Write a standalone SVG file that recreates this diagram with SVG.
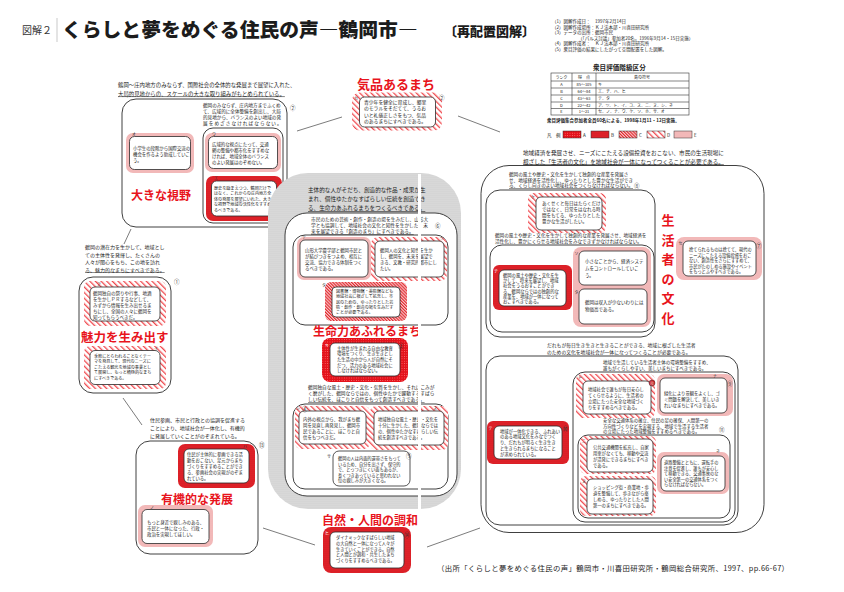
<svg xmlns="http://www.w3.org/2000/svg" width="844" height="592" viewBox="0 0 844 592">
<defs>
<style>
text{font-family:"Noto Sans CJK JP","Noto Sans",sans-serif;fill:#1c1c1c}
.s41{font-size:4.1px}.s42{font-size:4.2px}.s43{font-size:4.3px}.s44{font-size:4.4px}.s45{font-size:4.5px}.s46{font-size:4.6px}.s47{font-size:4.7px}.s48{font-size:4.8px}.s50{font-size:5px}.s54{font-size:5.4px}.s56{font-size:5.6px}
.u{text-decoration:underline}
.red{fill:#e8141c;font-weight:700}
.lab{font-size:4px;fill:#333}
.num{font-size:5.5px;fill:#333}
.fr{fill:#fff;stroke:#2a2a2a;stroke-width:0.9}
.bx{fill:#fff;stroke:#2a2a2a;stroke-width:0.8}
.ln{stroke:#444;stroke-width:0.7;fill:none}
.tb{fill:none;stroke:#333;stroke-width:0.6}
</style>
<pattern id="pA" width="2.4" height="2.4" patternUnits="userSpaceOnUse"><rect width="2.4" height="2.4" fill="#e4121b"/><circle cx="1.2" cy="1.2" r="0.45" fill="#ff8a8a"/></pattern>
<pattern id="pB" width="2" height="2" patternUnits="userSpaceOnUse"><rect width="2" height="2" fill="#e8252c"/><circle cx="1" cy="1" r="0.5" fill="#a80b12"/></pattern>
<pattern id="pC" width="2.2" height="2.2" patternUnits="userSpaceOnUse" patternTransform="rotate(-45)"><rect width="2.2" height="2.2" fill="#f7c9c9"/><rect width="1.1" height="2.2" fill="#e3262d"/></pattern>
<pattern id="pD" width="4" height="4" patternUnits="userSpaceOnUse" patternTransform="rotate(-45)"><rect width="4" height="4" fill="#fff"/><rect width="1.3" height="4" fill="#f0484d"/></pattern>
<pattern id="pE" width="2" height="2" patternUnits="userSpaceOnUse"><rect width="2" height="2" fill="#f4bcbc"/><circle cx="1" cy="1" r="0.4" fill="#e79e9e"/></pattern>
<pattern id="pG" width="2" height="2" patternUnits="userSpaceOnUse"><rect width="2" height="2" fill="#dedede"/><circle cx="1" cy="1" r="0.55" fill="#bdbdbd"/></pattern>
</defs>
<rect width="844" height="592" fill="#fff"/>

<g id="title">
<text x="22" y="34" style="font-size:10px;fill:#333">図解２</text>
<line x1="57" y1="18" x2="57" y2="42" stroke="#bbb" stroke-width="0.8"/>
<text x="62" y="37" style="font-size:19.8px;font-weight:900">くらしと夢をめぐる住民の声―鶴岡市―</text>
<text x="444" y="36" style="font-size:13px;font-weight:900">〔再配置図解〕</text>
</g>

<g id="notes">
<text class="s45" x="552" y="23">（1）図解作成日：　1997年2月14日</text>
<text class="s45" x="552" y="28.5">（2）図解作成場所：ＫＪ法本部・川喜田研究所</text>
<text class="s45" x="552" y="34">（3）データの出所：鶴岡市民</text>
<text class="s45" x="578" y="39.5">（「パルス討議」参加者20名，1996年9月14・15日実施）</text>
<text class="s45" x="552" y="45">（4）図解作成者：　ＫＪ法本部・川喜田研究所</text>
<text class="s45" x="552" y="51">（5）衆目評価の結果にしたがって空間配置をした図解。</text>
</g>

<g id="rank-table">
<text x="593" y="70" style="font-size:6.6px;font-weight:700">衆目評価階級区分</text>
<rect class="tb" x="551" y="73" width="138" height="42" stroke-width="0.9"/>
<line class="tb" x1="572" y1="73" x2="572" y2="115"/>
<line class="tb" x1="596" y1="73" x2="596" y2="115"/>
<line class="tb" x1="551" y1="81" x2="689" y2="81"/>
<line class="tb" x1="551" y1="88" x2="689" y2="88"/>
<line class="tb" x1="551" y1="95" x2="689" y2="95"/>
<line class="tb" x1="551" y1="102" x2="689" y2="102"/>
<line class="tb" x1="551" y1="108.5" x2="689" y2="108.5"/>
<g text-anchor="middle">
<text x="561.5" y="79.3" style="font-size:4px">ランク</text><text x="584" y="79.3" style="font-size:4px">得　点</text><text x="642" y="79.3" style="font-size:4px">島の符号</text>
<text x="561.5" y="86.3" style="font-size:4px">A</text><text x="584" y="86.3" style="font-size:4px">85～105</text>
<text x="561.5" y="93.3" style="font-size:4px">B</text><text x="584" y="93.3" style="font-size:4px">64～84</text>
<text x="561.5" y="100.3" style="font-size:4px">C</text><text x="584" y="100.3" style="font-size:4px">43～63</text>
<text x="561.5" y="106.8" style="font-size:4px">D</text><text x="584" y="106.8" style="font-size:4px">22～42</text>
<text x="561.5" y="113.3" style="font-size:4px">E</text><text x="584" y="113.3" style="font-size:4px">1～21</text>
</g>
<text x="598" y="86.3" style="font-size:4px">キ</text>
<text x="598" y="93.3" style="font-size:4px">エ、チ、ハ、ヒ</text>
<text x="598" y="100.3" style="font-size:4px">テ、タ</text>
<text x="598" y="106.8" style="font-size:4px">ア、ツ、ト、イ、コ、ス、ニ、ヌ、シ、ネ</text>
<text x="598" y="113.3" style="font-size:4px">セ、ノ、ナ、ウ、ケ、ソ、ホ、サ、オ</text>
<text class="s45" x="547" y="122" style="font-weight:700">衆目評価集合参加者全員60名による。1998年1月11・12日実施。</text>
</g>

<g id="legend">
<text class="s45" x="547" y="137">凡　例</text>
<rect x="563" y="131" width="18" height="7" fill="url(#pA)" stroke="#333" stroke-width="0.5"/><text class="s45" x="583" y="137">A</text>
<rect x="591" y="131" width="18" height="7" fill="url(#pB)" stroke="#333" stroke-width="0.5"/><text class="s45" x="611" y="137">B</text>
<rect x="619" y="131" width="18" height="7" fill="url(#pC)" stroke="#333" stroke-width="0.5"/><text class="s45" x="639" y="137">C</text>
<rect x="647" y="131" width="18" height="7" fill="url(#pD)" stroke="#333" stroke-width="0.5"/><text class="s45" x="667" y="137">D</text>
<rect x="674" y="131" width="18" height="7" fill="url(#pE)" stroke="#333" stroke-width="0.5"/><text class="s45" x="694" y="137">E</text>
</g>

<g id="connectors" class="ln">
<line x1="131" y1="229" x2="124" y2="244"/>
<line x1="123" y1="398" x2="142" y2="425"/>
<line x1="263" y1="528" x2="315" y2="545"/>
<line x1="427" y1="547" x2="480" y2="528"/>
<line x1="297" y1="131" x2="342" y2="117"/>
<line x1="458" y1="116" x2="500" y2="132"/>
</g>

<g id="n-vision">
<text class="s54" x="118" y="87">鶴岡〜庄内地方のみならず、国際社会の全体的な発展まで展望に入れた、</text>
<text class="s54 u" x="118" y="95.5">大局的見地からの、スケールの大きな取り組みがもとめられている。</text>
<rect class="fr" x="122" y="99" width="165" height="128" rx="14"/>
<text class="s46"><tspan x="203" y="107">鶴岡のみならず、庄内地方までふくめ</tspan><tspan x="203" y="113">て、広域的に全体整備を創出し、大局</tspan><tspan x="203" y="119">的見地から、バランスのよい地域の発</tspan><tspan x="203" y="125" style="letter-spacing:1.1px">展をめざさなければならない。</tspan></text>
<text class="num" x="290" y="110">②</text>
<rect x="126" y="133" width="68" height="40" rx="7" fill="url(#pE)"/>
<rect class="bx" x="129.5" y="136.5" width="61" height="33" rx="5"/>
<text class="lab" x="132" y="135.5">オ</text>
<text class="s44"><tspan x="133" y="150">小学生の段階から国際交流の</tspan><tspan x="133" y="156">機会を作るよう助成していこ</tspan><tspan x="133" y="162">う。</tspan></text>
<rect class="fr" x="203" y="128" width="80" height="95" rx="10"/>
<rect x="205" y="133" width="76" height="39" rx="7" fill="url(#pE)"/>
<rect class="bx" x="208.5" y="136.5" width="69" height="32" rx="5"/>
<text class="lab" x="212" y="135.5">ウ</text>
<text class="s44"><tspan x="212" y="146">広域的な視点にたって、交通</tspan><tspan x="212" y="152">網の整備や都市化をすすめな</tspan><tspan x="212" y="158">ければ、地域全体のバランス</tspan><tspan x="212" y="164">のよい発展はのぞめない。</tspan></text>
<rect x="206" y="176" width="76" height="45" rx="7" fill="url(#pB)"/>
<rect class="bx" x="211.5" y="181" width="65" height="35" rx="5"/>
<text class="lab" x="214" y="180">エ</text>
<text class="s41"><tspan x="214" y="189.5">歴史を踏まえつつ、鶴岡だけで</tspan><tspan x="214" y="195">はなく、これからの庄内地方全</tspan><tspan x="214" y="200.5">体の発展を展望にいれた、大き</tspan><tspan x="214" y="206">な視野で地域の活性化をすすめ</tspan><tspan x="214" y="211.5">るべきである。</tspan></text>
<text class="red" x="131" y="200" style="font-size:12px">大きな視野</text>
</g>

<g id="n-kihin">
<text class="red" x="357" y="89" style="font-size:13px">気品あるまち</text>
<rect x="352" y="92.5" width="90" height="38" rx="8" fill="url(#pD)"/>
<rect class="bx" x="359.5" y="97" width="76" height="30" rx="5"/>
<text class="lab" x="354" y="100">カ</text>
<text class="num" x="439" y="100">②</text>
<text class="s48"><tspan x="364" y="104">青少年を健全に育成し、郷里</tspan><tspan x="364" y="110.3">のモラルをそだてて、うるお</tspan><tspan x="364" y="116.6">いと礼儀正しさをもつ、気品</tspan><tspan x="364" y="122.9">のあるまちにすべきである。</tspan></text>
</g>

<g id="n-miryoku">
<text class="s50"><tspan x="85" y="249">鶴岡の潜在力を生かして、地域とし</tspan><tspan x="85" y="256.5">ての主体性を発揮し、たくさんの</tspan><tspan x="85" y="264">人々が関心をもち、この地を訪れ</tspan><tspan x="85" y="271.5" class="u">る、魅力的なまちにすべきである。</tspan></text>
<rect class="fr" x="79" y="277" width="92" height="116" rx="14"/>
<text class="num" x="174" y="284">①</text>
<rect x="84" y="281" width="82" height="45" rx="6" fill="url(#pD)"/>
<rect class="bx" x="90" y="287" width="70" height="34" rx="5"/>
<text class="lab" x="97" y="285.5">ア</text>
<text class="s45"><tspan x="93" y="295">鶴岡独自の祭りや行事、地酒</tspan><tspan x="93" y="301">を生かしＰＲするなどして、</tspan><tspan x="93" y="307">みずから情報を生み出せるま</tspan><tspan x="93" y="313">ちにし、全国の人々に鶴岡を</tspan><tspan x="93" y="319">知ってもらうべきだ。</tspan></text>
<text class="red" x="81" y="342" style="font-size:12.5px">魅力を生み出す</text>
<rect x="84" y="346" width="82" height="43" rx="6" fill="url(#pD)"/>
<rect class="bx" x="90" y="350.5" width="70" height="34" rx="5"/>
<text class="lab" x="154" y="350">イ</text>
<text class="s41"><tspan x="94" y="357.5">季節にとらわれることなくテー</tspan><tspan x="94" y="363">マを発見して、現代のニーズに</tspan><tspan x="94" y="368.5">こたえる観光を地域の事業とし</tspan><tspan x="94" y="374">て展開し、もっと積極的なまち</tspan><tspan x="94" y="379.5">にすべきである。</tspan></text>
</g>

<g id="n-yuki">
<text class="s50"><tspan x="150" y="422">住民参画、市民と行政との協調を促進する</tspan><tspan x="150" y="430">ことにより、地域社会が一体化し、有機的</tspan><tspan x="150" y="438">に発展していくことがのぞまれている。</tspan></text>
<rect class="fr" x="136" y="441" width="122" height="113" rx="14"/>
<text class="num" x="259" y="447">⑬</text>
<rect x="178" y="444" width="77" height="44" rx="7" fill="url(#pB)"/>
<rect class="bx" x="184" y="449" width="65" height="34" rx="5"/>
<text class="lab" x="243" y="448">ハ</text>
<text class="s43"><tspan x="187" y="456">住民が主体的に参画できる活</tspan><tspan x="187" y="462">動をおこない、足元からまち</tspan><tspan x="187" y="468">づくりをすすめることができ</tspan><tspan x="187" y="474">る、参画社会の実現がのぞま</tspan><tspan x="187" y="480">れている。</tspan></text>
<text class="red" x="161" y="504" style="font-size:12px">有機的な発展</text>
<rect x="138" y="505" width="75" height="42" rx="7" fill="url(#pE)"/>
<rect class="bx" x="142" y="509.5" width="67" height="34" rx="5"/>
<text class="lab" x="150" y="508.5">ノ</text>
<text class="s44"><tspan x="147" y="524">もっと身近で親しみのある、</tspan><tspan x="147" y="530">市民と一体になった、行政・</tspan><tspan x="147" y="536">政治を実現してほしい。</tspan></text>
</g>

<g id="n-seimei">
<rect x="268" y="173" width="193" height="336" rx="40" fill="url(#pG)"/>
<text class="s56"><tspan x="308" y="192">主体的な人がそだち、創造的な作品・成果が生</tspan><tspan x="308" y="201">まれ、個性ゆたかなすばらしい伝統を創造でき</tspan><tspan x="308" y="210" class="u">る、生命力あふれるまちをつくるべきである。</tspan></text>
<rect class="fr" x="285" y="213" width="172" height="283" rx="22"/>
<text class="s47"><tspan x="311" y="221">市民のための芸術・創作・創造の場を生みだし、山形大</tspan><tspan x="311" y="227">学とも協調して、地域社会の文化と知性を生かした、未</tspan><tspan x="311" y="233" class="u">来を展望できる「創造のまち」にすべきである。</tspan></text>
<text class="num" x="435" y="228">⑥</text>
<rect class="fr" x="293" y="235" width="155" height="90" rx="12"/>
<rect x="297" y="237" width="74" height="43" rx="7" fill="url(#pE)"/>
<rect class="bx" x="300" y="240" width="68" height="37" rx="5"/>
<text class="lab" x="302" y="239">テ</text>
<text class="s44"><tspan x="305" y="252">山形大学農学部と鶴岡市民と</tspan><tspan x="305" y="258">が結びつきをつよめ、相互に</tspan><tspan x="305" y="264">交流、協力できる体制をつく</tspan><tspan x="305" y="270">るべきである。</tspan></text>
<rect x="371" y="237" width="76" height="44" rx="7" fill="url(#pD)"/>
<rect class="bx" x="375" y="241" width="69" height="36" rx="5"/>
<text class="lab" x="440" y="240">ツ</text>
<text class="s44"><tspan x="380" y="252">鶴岡人の文化と知性を生か</tspan><tspan x="380" y="258">し、鶴岡を、未来を展望で</tspan><tspan x="380" y="264">きる、文教・研究的都市にし</tspan><tspan x="380" y="270">たい。</tspan></text>
<rect x="325" y="282" width="82" height="39" rx="6" fill="url(#pC)"/>
<rect class="bx" x="332" y="287" width="68" height="30" rx="4"/>
<text class="lab" x="322" y="287">タ</text>
<text class="s41"><tspan x="336" y="293">図書館・博物館・美術館なども</tspan><tspan x="336" y="298.3">地域社会に根ざして拡充し、市</tspan><tspan x="336" y="303.6">民のための、ゆったりとした芸</tspan><tspan x="336" y="308.9">術・創作・創造の場を生みだす</tspan><tspan x="336" y="314.2">ことが必要である。</tspan></text>
<text class="red" x="313" y="336" style="font-size:12px">生命力あふれるまち</text>
<rect x="322" y="338" width="86" height="44" rx="8" fill="url(#pA)"/>
<rect class="bx" x="330" y="343" width="70" height="33" rx="5"/>
<text class="lab" x="325" y="347" style="fill:#fff">キ</text>
<text class="num" x="398" y="348">③</text>
<text class="s43"><tspan x="337" y="349.5">主体性が生まれる自由な教育</tspan><tspan x="337" y="355.2">環境をつくり、生き生きとし</tspan><tspan x="337" y="360.9">た生活の中から人が自然にそ</tspan><tspan x="337" y="366.6">だつ、活力のある地域社会に</tspan><tspan x="337" y="372.3">しなければならない。</tspan></text>
<text class="s47"><tspan x="308" y="389">鶴岡独自な風土・歴史・文化・気質を生かし、それにこみが</tspan><tspan x="308" y="395">く磨がした、鶴岡ならではの、個性ゆたかで躍動するすばら</tspan><tspan x="308" y="401" class="u">しい伝統を、ほこりと自信をもって創造すべきである。</tspan></text>
<rect class="fr" x="293" y="404" width="155" height="85" rx="12"/>
<rect x="295" y="406" width="75" height="43" rx="6" fill="url(#pD)"/>
<rect class="bx" x="299" y="411" width="67" height="33" rx="5"/>
<text class="lab" x="296" y="410">シ</text>
<text class="num" x="302" y="410.5">④</text>
<text class="s44"><tspan x="303" y="421">内外の視点から、我がまち鶴</tspan><tspan x="303" y="427">岡を見直し再発見し、鶴岡市</tspan><tspan x="303" y="433">民であることに、ほこりと自</tspan><tspan x="303" y="439">信をもつべきだ。</tspan></text>
<rect x="370" y="406" width="78" height="44" rx="6" fill="url(#pD)"/>
<rect class="bx" x="374" y="411" width="70" height="34" rx="5"/>
<text class="lab" x="433" y="409.5">ス</text>
<text class="s43"><tspan x="378" y="421">地域独自な風土・歴史・文化を</tspan><tspan x="378" y="427">十分に生かした、鶴岡ならでは</tspan><tspan x="378" y="433">の、個性ゆたかなすばらしい伝</tspan><tspan x="378" y="439">統を創造すべきである。</tspan></text>
<rect class="bx" x="333" y="451" width="77" height="35" rx="6"/>
<text class="lab" x="327" y="458">サ</text>
<text class="num" x="406" y="458">⑤</text>
<text class="s42"><tspan x="338" y="460">鶴岡の人は内面的運帯さをもって</tspan><tspan x="338" y="465.5">いるため、自分を出さず、保守的</tspan><tspan x="338" y="471">で、とっつきにくい面もあるが、</tspan><tspan x="338" y="476.5">長くつきあっていると思われない</tspan><tspan x="338" y="482">位の親しみが大きくなる。</tspan></text>
</g>

<g id="n-shizen">
<text class="red" x="322" y="525" style="font-size:12px">自然・人間の調和</text>
<rect x="323" y="527" width="88" height="46" rx="8" fill="url(#pB)"/>
<rect class="bx" x="330" y="532" width="74" height="36" rx="5"/>
<text class="lab" x="325" y="535" style="fill:#fff">ヒ</text>
<text class="num" x="404" y="537">⑭</text>
<text class="s42"><tspan x="336" y="539">ダイナミックなすばらしい地域</tspan><tspan x="336" y="544.8">の大自然と一体になって人々が</tspan><tspan x="336" y="550.6">生きていくことができる。自然</tspan><tspan x="336" y="556.4">と人間とが調和・共生したまち</tspan><tspan x="336" y="562.2">づくりをすすめるべきである。</tspan></text>
</g>

<g id="n-seikatsusha">
<text class="s56"><tspan x="523" y="155">地域経済を発展させ、ニーズにこたえる設備投資をおこない、市民の生活現場に</tspan><tspan x="523" y="163.5" class="u">根ざした「生活者の文化」を地域社会が一体になってつくることが必要である。</tspan></text>
<rect class="fr" x="481" y="165.5" width="283" height="367" rx="28"/>
<text class="s46"><tspan x="509" y="176">鶴岡の風土や歴史・文化を生かして独創的な産業を発展さ</tspan><tspan x="509" y="181.5">せ、地域経済を活性化し、ゆったりとした豊かな生活ができ</tspan><tspan x="509" y="187" class="u">る、くらし向きのよい地域社会をつくらなければならない。</tspan></text>
<text class="num" x="634" y="188">⑧</text>
<rect class="fr" x="486" y="190" width="169" height="147" rx="14"/>
<rect x="528" y="193" width="78" height="40" rx="6" fill="url(#pD)"/>
<rect class="bx" x="536" y="197" width="66" height="33" rx="5"/>
<text class="lab" x="531" y="199">ケ</text>
<text class="s45"><tspan x="542" y="205">あくせくと毎日はたらくだけ</tspan><tspan x="542" y="211">ではなく、日常をはなれる時</tspan><tspan x="542" y="217">間をもてる、ゆったりとした</tspan><tspan x="542" y="223">豊かな生活がしたい。</tspan></text>
<text class="s46"><tspan x="495" y="237">鶴岡の風土や歴史・文化を生かして独創的な産業を発展させ、地域経済を</tspan><tspan x="495" y="243">活性化し、豊かにくらせる地域社会をみなできずかなければならない。</tspan></text>
<rect class="fr" x="490" y="245" width="164" height="87" rx="12"/>
<rect x="493" y="265" width="79" height="45" rx="6" fill="url(#pB)"/>
<rect class="bx" x="499" y="270" width="67" height="36" rx="5"/>
<text class="lab" x="494" y="273" style="fill:#fff">チ</text>
<text class="s43"><tspan x="503" y="277">鶴岡の風土や歴史・文化を生</tspan><tspan x="503" y="282.2">かして、将来を展望し、地域</tspan><tspan x="503" y="287.4">社会をうるおすことができ</tspan><tspan x="503" y="292.6">る、鶴岡ならではの独創的な</tspan><tspan x="503" y="297.8">産業を、地域が一体になって</tspan><tspan x="503" y="303">おこすべきである。</tspan></text>
<rect x="573" y="247" width="78" height="80" rx="8" fill="url(#pE)"/>
<rect class="bx" x="579" y="251" width="68" height="34" rx="5"/>
<text class="lab" x="574.5" y="255">ソ</text>
<text class="s45"><tspan x="585" y="263">小さなことから、経済システ</tspan><tspan x="585" y="270">ムをコントロールしていこ</tspan><tspan x="585" y="277">う。</tspan></text>
<rect class="bx" x="579" y="289" width="68" height="35" rx="5"/>
<text class="lab" x="574.5" y="294">タ</text>
<text class="s45"><tspan x="585" y="304">鶴岡は収入が少ないわりには</tspan><tspan x="585" y="311">物価高である。</tspan></text>
<text class="red" text-anchor="middle" style="font-size:13px"><tspan x="668" y="225">生</tspan><tspan x="668" y="244.5">活</tspan><tspan x="668" y="264">者</tspan><tspan x="668" y="283.5">の</tspan><tspan x="668" y="303">文</tspan><tspan x="668" y="322.5">化</tspan></text>
<text class="s48"><tspan x="547" y="347">だれもが毎日生き生きと生きることができる、地域に根ざした生活者</tspan><tspan x="547" y="354">のための文化を地域社会が一体になってつくることが必要である。</tspan></text>
<rect class="fr" x="486" y="356" width="252" height="169" rx="14"/>
<rect x="487" y="421" width="82" height="43" rx="6" fill="url(#pB)"/>
<rect class="bx" x="494" y="426" width="68" height="33" rx="5"/>
<text class="lab" x="488.5" y="430" style="fill:#fff">テ</text>
<text class="num" x="562.5" y="431">⑩</text>
<text class="s43"><tspan x="500" y="432.5">地域が一体化できる、ふれあい</tspan><tspan x="500" y="438.3">のある地域文化をみなでつく</tspan><tspan x="500" y="444.1">り、だれもが明るく生き生き</tspan><tspan x="500" y="449.9">と生きられるまちになること</tspan><tspan x="500" y="455.7">が求められている。</tspan></text>
<text class="s45"><tspan x="603" y="364">地域で生活している生活者主体の環境整備をすすめ、</tspan><tspan x="603" y="370">誰もがくらしやすい、美しいまちにすべきである。</tspan></text>
<rect class="fr" x="573" y="372" width="162" height="150" rx="12"/>
<rect x="576" y="374" width="79" height="44" rx="6" fill="url(#pD)"/>
<rect class="bx" x="583" y="381" width="68" height="33" rx="5"/>
<text class="lab" x="578" y="379">ト</text>
<circle cx="652" cy="383" r="3" fill="#c81e28" stroke="#333" stroke-width="0.4"/>
<text x="650" y="385" style="font-size:4px;fill:#fff">⑫</text>
<text class="s43"><tspan x="588" y="391">地域社会で誰もが毎日安心し</tspan><tspan x="588" y="397">てくらせるように、生活者の</tspan><tspan x="588" y="403">立場にたった安全な地域づく</tspan><tspan x="588" y="409">りをすすめるべきである。</tspan></text>
<rect x="657" y="374" width="76" height="42" rx="7" fill="url(#pE)"/>
<rect class="bx" x="660" y="378" width="67" height="35" rx="5"/>
<text class="lab" x="713" y="377.5">ナ</text>
<text class="num" x="727" y="386">⑨</text>
<text class="s43"><tspan x="664" y="395">緑化により景観をよくし、ゴ</tspan><tspan x="664" y="401">ミ問題を解決して、美しいき</tspan><tspan x="664" y="407">れいなまちにすべきである。</tspan></text>
<text class="s44"><tspan x="603" y="422">安全な交通体系の確立、住民の足の確保、人間第一の</tspan><tspan x="603" y="427.5">方向性づくりなどを実現する、地域で生活する生活者</tspan><tspan x="603" y="433">の立場にたった地域整備をすすめるべきである。</tspan></text>
<text class="num" x="719" y="432">⑪</text>
<rect class="fr" x="578" y="435" width="152" height="83" rx="10"/>
<rect x="580" y="436" width="76" height="38" rx="6" fill="url(#pD)"/>
<rect class="bx" x="587" y="439" width="66" height="33" rx="5"/>
<text class="lab" x="582" y="443">ニ</text>
<text class="s43"><tspan x="593" y="449">公共交通機関を拡充し、自家</tspan><tspan x="593" y="455">用車がなくても、移動や交流</tspan><tspan x="593" y="461">が活発にできるまちにすべき</tspan><tspan x="593" y="467">である。</tspan></text>
<rect x="580" y="476" width="76" height="40" rx="6" fill="url(#pD)"/>
<rect class="bx" x="587" y="479" width="66" height="35" rx="5"/>
<text class="lab" x="582" y="483">ヌ</text>
<text class="s43"><tspan x="593" y="489">ショッピング街・商業地・歩</tspan><tspan x="593" y="495">道を整備して、歩きながら楽</tspan><tspan x="593" y="501">しめる、ゆったりとした人間</tspan><tspan x="593" y="507">第一のまちにすべきである。</tspan></text>
<rect x="657" y="452" width="72" height="42" rx="7" fill="url(#pE)"/>
<rect class="bx" x="661" y="456" width="64" height="35" rx="5"/>
<text class="lab" x="716" y="453">ネ</text>
<text class="s42"><tspan x="664" y="464">道路整備とともに、運転手の</tspan><tspan x="664" y="469.5">注意を促進し、誰もが安心し</tspan><tspan x="664" y="475">て移動できる、交通事故のな</tspan><tspan x="664" y="480.5">い安全第一の交通体系をつく</tspan><tspan x="664" y="486">らなければならない。</tspan></text>
</g>

<g id="n-se">
<rect x="676" y="237" width="86" height="43" rx="8" fill="url(#pE)"/>
<rect class="bx" x="683" y="241" width="73" height="35" rx="5"/>
<text class="lab" x="678.5" y="245">セ</text>
<text class="num" x="756" y="248">⑦</text>
<text class="s42"><tspan x="689" y="251">捨てられるものは捨てて、現代の</tspan><tspan x="689" y="256.5">ニーズにこたえる設備投資をおこ</tspan><tspan x="689" y="262">ない、創造性をさらにすすめて、</tspan><tspan x="689" y="267.5">市民がたのしめる施設やイベント</tspan><tspan x="689" y="273">をもっとふやすべきである。</tspan></text>
</g>

<g id="scan-gap">
<rect x="418" y="174" width="3" height="336" fill="#fff"/>
</g>

<g id="citation">
<text x="437" y="571" style="font-size:7.4px" textLength="352" lengthAdjust="spacing">（出所「くらしと夢をめぐる住民の声」鶴岡市・川喜田研究所・鶴岡総合研究所、1997、pp.66-67）</text>
</g>
</svg>
